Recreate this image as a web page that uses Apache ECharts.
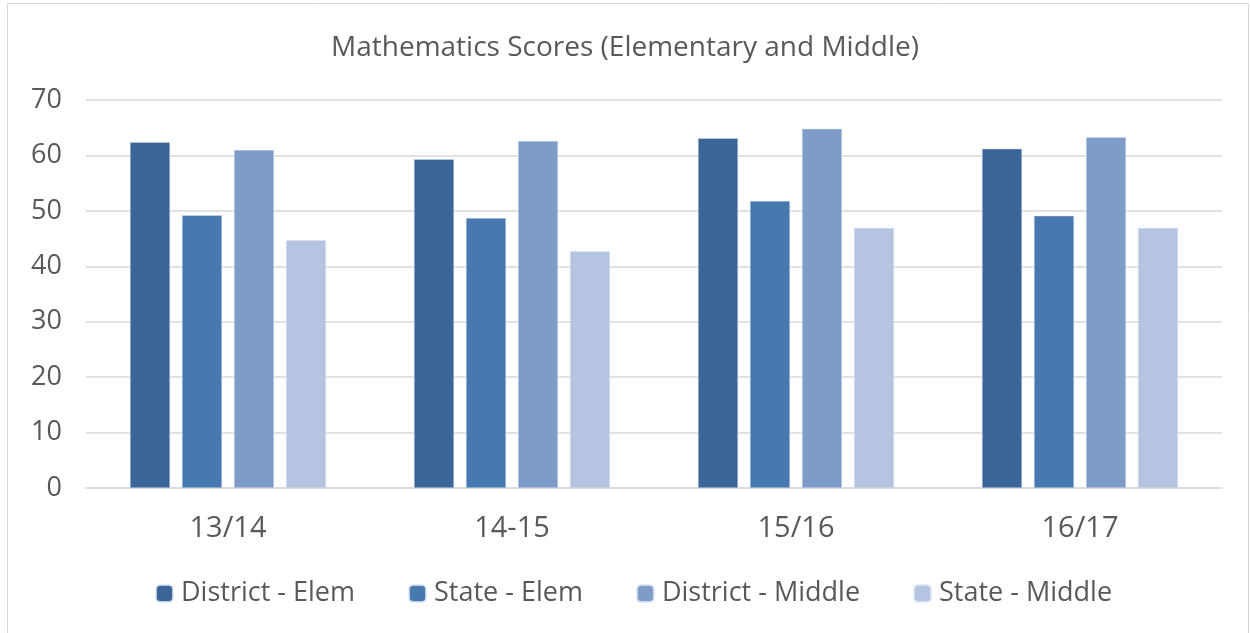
<!DOCTYPE html>
<html>
<head>
<meta charset="utf-8">
<script src="https://cdn.jsdelivr.net/npm/echarts@6/dist/echarts.min.js"></script>
<style>
  body { margin: 0; background: #fff; }
  #chart { width: 1250px; height: 633px; }
</style>
</head>
<body>
<div id="chart"></div>
<script>
var years = ['13/14', '14-15', '15/16', '16/17'];
var districtElem = [62.4, 59.3, 63.1, 61.2];
var stateElem = [49.2, 48.7, 51.8, 49.1];
var districtMiddle = [61.0, 62.6, 64.8, 63.3];
var stateMiddle = [44.7, 42.7, 46.9, 46.9];

var font = '"Open Sans", "Noto Sans", sans-serif';
var chart = echarts.init(document.getElementById('chart'));

function bar(name, data, color) {
  return {
    name: name,
    type: 'bar',
    data: data,
    barWidth: 40,
    barGap: '30%',
    itemStyle: { color: color, borderColor: 'rgba(220,230,245,0.8)', borderWidth: 0.5 }
  };
}

chart.setOption({
  animation: false,
  textStyle: { fontFamily: font },
  graphic: [{
    type: 'rect',
    shape: { x: 7.5, y: 3.5, width: 1241, height: 640 },
    style: { fill: 'none', stroke: '#d9d9d9', lineWidth: 1 },
    silent: true
  }],
  title: {
    text: 'Mathematics Scores (Elementary and Middle)',
    left: 'center',
    top: 29,
    textStyle: { color: '#595959', fontSize: 28, fontWeight: 'normal', fontFamily: font }
  },
  legend: {
    bottom: 21,
    left: 150,
    itemWidth: 17,
    itemHeight: 17,
    itemGap: 53,
    textStyle: { color: '#595959', fontSize: 27, fontFamily: font, padding: [0, 0, 0, 3] },
    data: ['District - Elem', 'State - Elem', 'District - Middle', 'State - Middle']
  },
  grid: { left: 86, right: 28, top: 100, bottom: 145, containLabel: false },
  xAxis: {
    type: 'category',
    data: years,
    axisTick: { show: false },
    axisLine: { lineStyle: { color: '#d9d9d9', width: 1.5 } },
    axisLabel: { color: '#595959', fontSize: 29, margin: 26 }
  },
  yAxis: {
    type: 'value',
    min: 0,
    max: 70,
    interval: 10,
    axisLine: { show: false },
    axisTick: { show: false },
    axisLabel: { color: '#595959', fontSize: 27, margin: 24 },
    splitLine: { lineStyle: { color: '#d9d9d9', width: 1.5 } }
  },
  series: [
    bar('District - Elem', districtElem, '#3b6497'),
    bar('State - Elem', stateElem, '#4878b0'),
    bar('District - Middle', districtMiddle, '#7f9cc8'),
    bar('State - Middle', stateMiddle, '#b5c4e0')
  ]
});
</script>
</body>
</html>
